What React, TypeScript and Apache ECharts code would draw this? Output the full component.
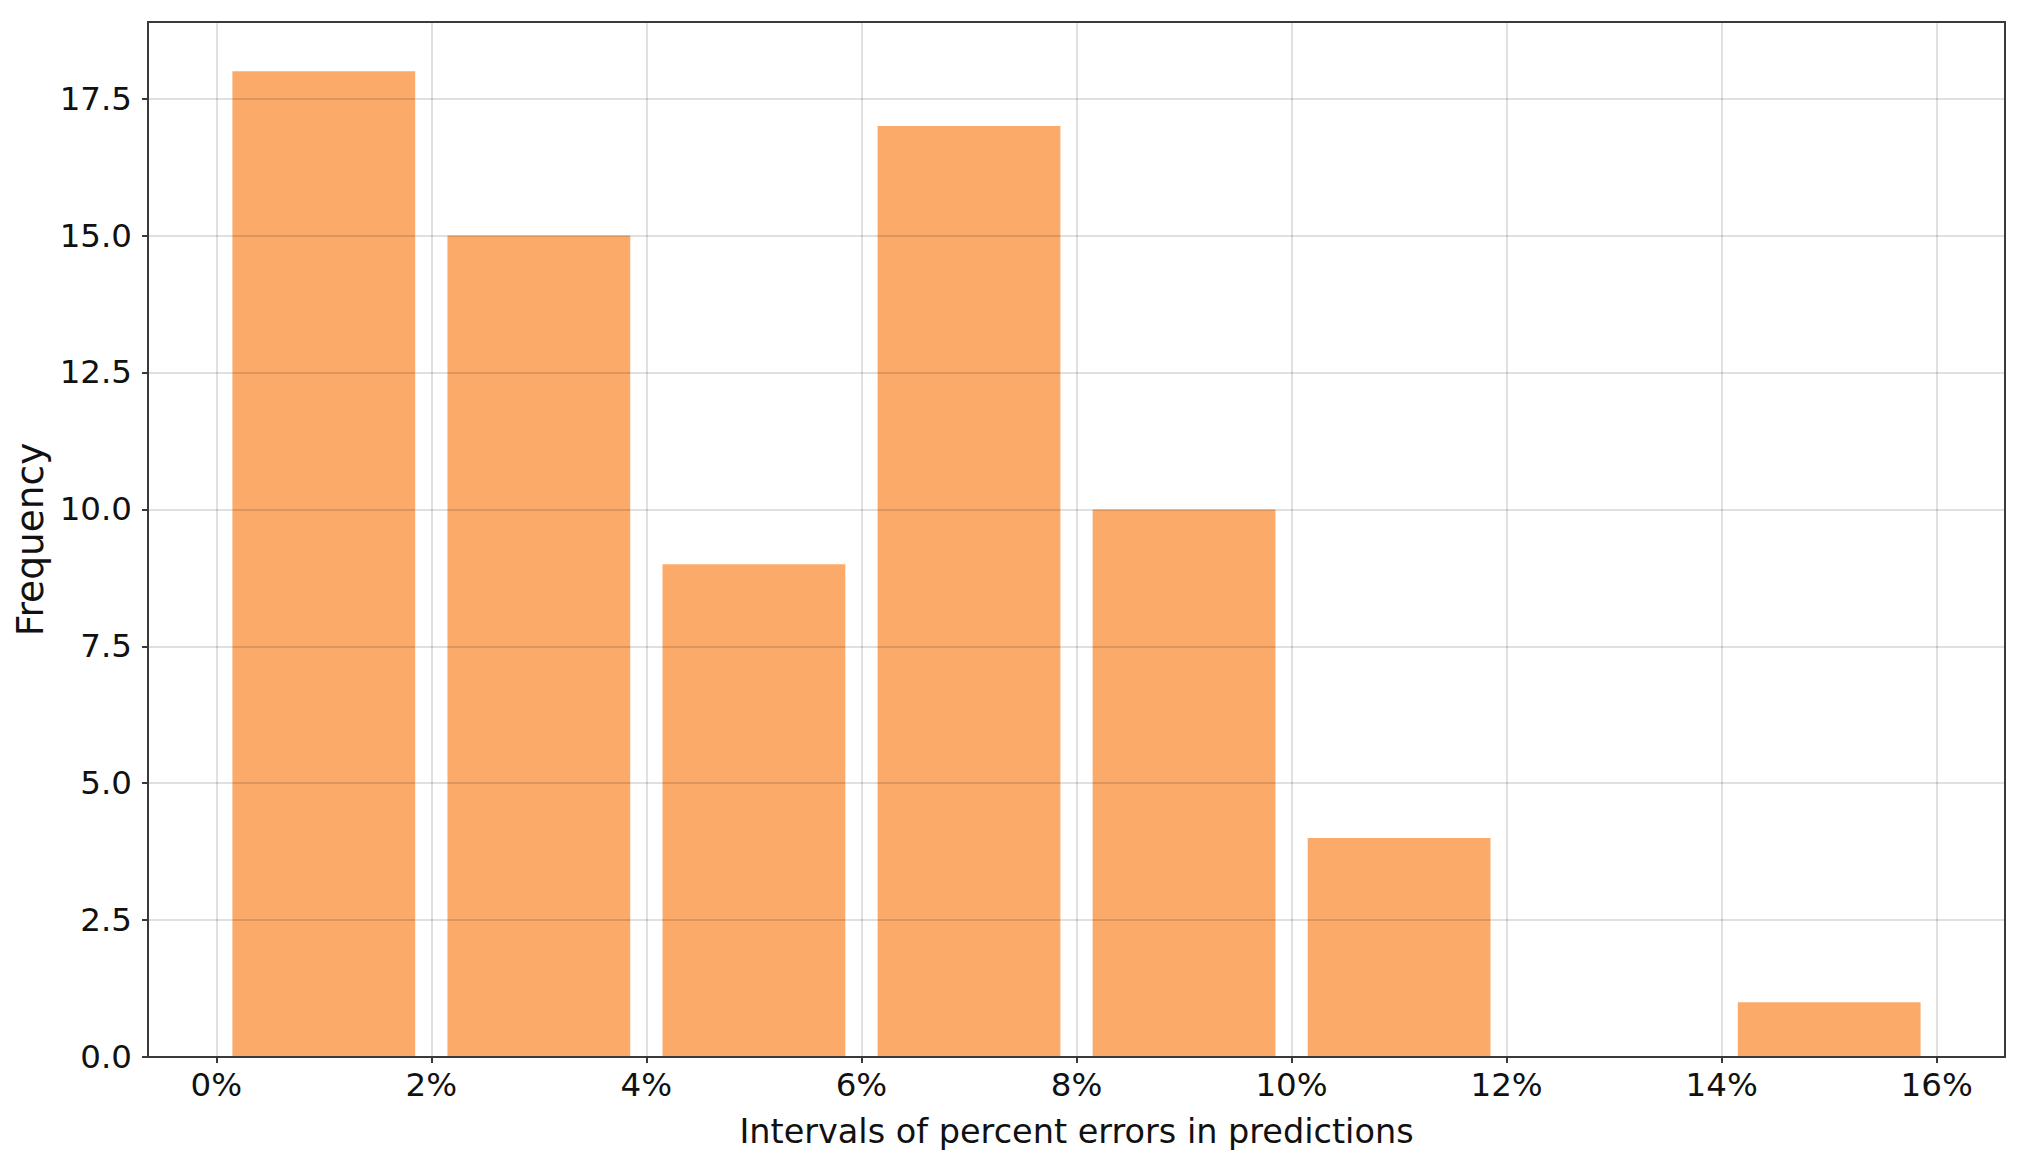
import React, { useEffect, useRef } from "react";
import * as echarts from "echarts";

const binEdges = [0, 2, 4, 6, 8, 10, 12, 14, 16];
const counts = [18, 15, 9, 17, 10, 4, 0, 1];
const xTicks = [0, 2, 4, 6, 8, 10, 12, 14, 16];
const yTicks = [0, 2.5, 5, 7.5, 10, 12.5, 15, 17.5];
const rwidth = 0.85;
const xLimits = [-0.635, 16.635];
const yLimits = [0, 18.9];

export default function App() {
  const ref = useRef<HTMLDivElement>(null);
  useEffect(() => {
    if (!ref.current) return;
    const chart = echarts.init(ref.current, null, { renderer: "svg" });
    const data = counts.map((c, i) => [binEdges[i], binEdges[i + 1], c]);
    const font = "DejaVu Sans";
    chart.setOption({
      animation: false,
      backgroundColor: "#ffffff",
      grid: {
        left: 148,
        top: 22,
        width: 1857,
        height: 1035,
        show: true,
        borderColor: "#3a3a3a",
        borderWidth: 2,
        backgroundColor: "transparent",
        z: 6,
      },
      xAxis: {
        type: "value",
        min: xLimits[0],
        max: xLimits[1],
        z: 5,
        name: "Intervals of percent errors in predictions",
        nameLocation: "middle",
        nameGap: 57,
        nameTextStyle: { fontFamily: font, fontSize: 33.5, color: "#111" },
        axisLine: { show: true, onZero: false, lineStyle: { color: "#3a3a3a", width: 2 } },
        axisTick: { show: true, length: 6, customValues: xTicks, lineStyle: { color: "#3a3a3a", width: 2 } },
        axisLabel: {
          customValues: xTicks,
          formatter: (v: number) => `${v}%`,
          fontFamily: font,
          fontSize: 32.5,
          color: "#111",
          margin: 11,
        },
        splitLine: { show: true, lineStyle: { color: "rgba(0,0,0,0.12)", width: 2 } },
      },
      yAxis: {
        type: "value",
        min: yLimits[0],
        max: yLimits[1],
        interval: 2.5,
        z: 5,
        name: "Frequency",
        nameLocation: "middle",
        nameGap: 88,
        nameRotate: 90,
        nameTextStyle: { fontFamily: font, fontSize: 37.5, color: "#111" },
        axisLine: { show: true, onZero: false, lineStyle: { color: "#3a3a3a", width: 2 } },
        axisTick: { show: true, length: 6, customValues: yTicks, lineStyle: { color: "#3a3a3a", width: 2 } },
        axisLabel: {
          customValues: yTicks,
          formatter: (v: number) => v.toFixed(1),
          fontFamily: font,
          fontSize: 32.5,
          color: "#111",
          margin: 16,
        },
        splitLine: { show: true, lineStyle: { color: "rgba(0,0,0,0.12)", width: 2 } },
      },
      series: [
        {
          type: "custom",
          z: 2,
          data,
          encode: { x: [0, 1], y: 2 },
          renderItem: (params: any, api: any) => {
            const start = api.value(0);
            const end = api.value(1);
            const val = api.value(2);
            const center = (start + end) / 2;
            const half = ((end - start) * rwidth) / 2;
            const p0 = api.coord([center - half, val]);
            const p1 = api.coord([center + half, 0]);
            return {
              type: "rect",
              shape: { x: p0[0], y: p0[1], width: p1[0] - p0[0], height: p1[1] - p0[1] },
              style: { fill: "#FCAA69" },
            };
          },
        },
      ],
    });
    return () => chart.dispose();
  }, []);
  return (
    <div
      ref={ref}
      style={{ position: "fixed", left: 0, top: 0, width: 2022, height: 1168 }}
    />
  );
}
